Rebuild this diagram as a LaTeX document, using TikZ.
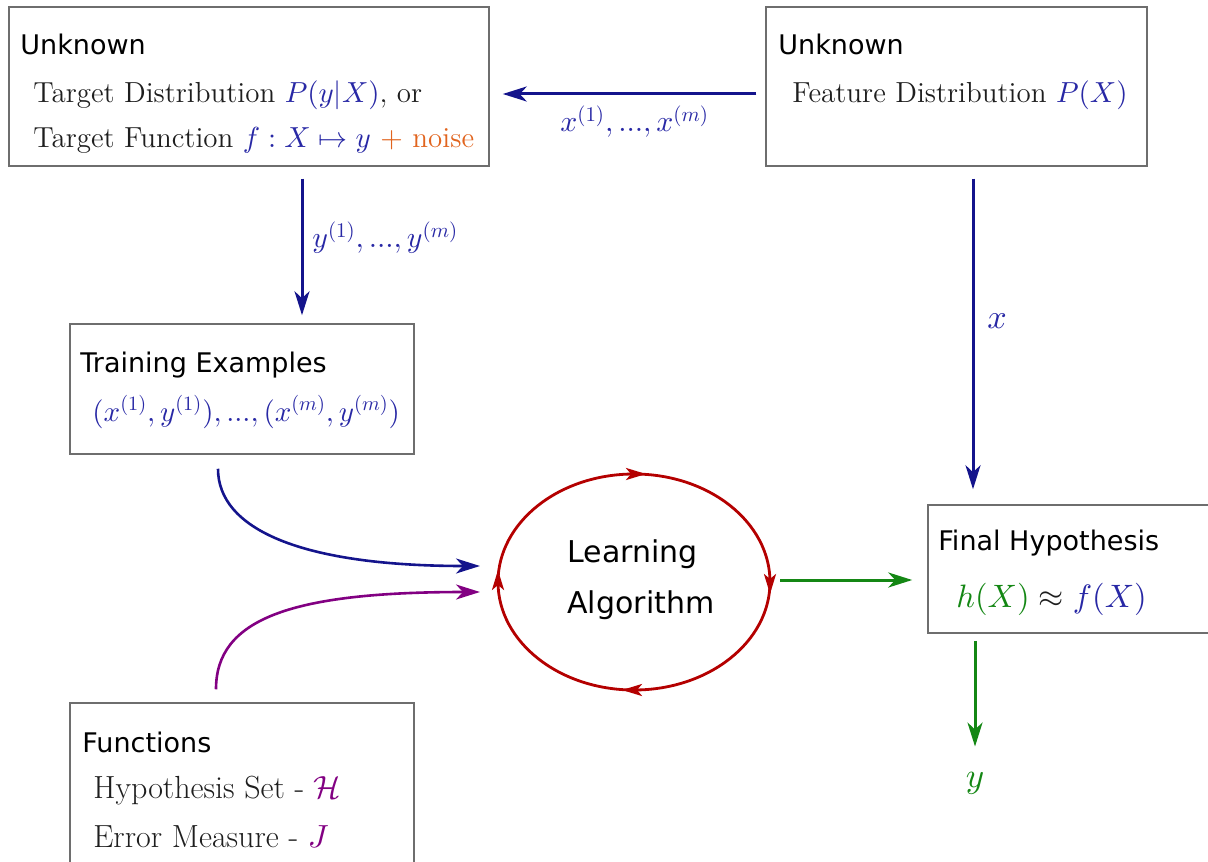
\documentclass[tikz,border=0pt]{standalone}
\usepackage{fontspec}
\setsansfont{DejaVu Sans}
\DeclareFontShape{OML}{cmm}{m}{it}{<->cmmi10}{}
\DeclareFontShape{OMS}{cmsy}{m}{n}{<->cmsy10}{}
\DeclareFontShape{OT1}{cmr}{m}{n}{<->cmr10}{}
\DeclareFontShape{OMX}{cmex}{m}{n}{<->cmex10}{}
\usetikzlibrary{arrows.meta,fit,shapes.geometric}
\definecolor{arrowblue}{RGB}{20,20,140}
\definecolor{mathblue}{RGB}{40,40,165}
\definecolor{loopred}{RGB}{180,0,0}
\definecolor{hypgreen}{RGB}{20,135,20}
\definecolor{funcpurple}{RGB}{130,0,130}
\definecolor{noiseorange}{RGB}{225,100,30}
\definecolor{boxgray}{RGB}{110,110,110}
\definecolor{textdark}{RGB}{30,30,30}
\tikzset{
  box/.style={draw=boxgray, line width=0.75pt, inner sep=0pt},
  title/.style={anchor=base west, inner sep=0pt, font=\fontsize{13.5}{16}\sffamily, text=black},
  body/.style={anchor=base west, inner sep=0pt, text=textdark, font=\fontsize{14.5}{17}\selectfont},
  lab/.style={anchor=base west, inner sep=0pt, font=\fontsize{14.9}{18}\selectfont, text=mathblue},
  flow/.style={line width=1.5pt, -{Stealth[length=12pt,width=7.5pt,inset=3.5pt]}},
  curveflow/.style={line width=1.3pt, -{Stealth[length=12pt,width=7.5pt,inset=3.5pt]}},
  looptip/.style={draw=loopred, line width=1.4pt, -{Stealth[length=10pt,width=6pt,inset=2.5pt]}},
  loopring/.style={draw=loopred, line width=1.4pt}
}
\begin{document}
\begin{tikzpicture}[x=0.5pt,y=-0.5pt]
\useasboundingbox (0,0) rectangle (1208,861);
\clip (0,0) rectangle (1208,861);

% boxes
\node[box, fit={(9,7) (489,166)}] (b1) {};
\node[box, fit={(766,7) (1147,166)}] (b2) {};
\node[box, fit={(70,324) (414,454)}] (tr) {};
\node[box, fit={(928,505) (1215,633)}] (fh) {};
\node[box, fit={(70,703) (414,875)}] (fn) {};

% box 1 text
\node[title] (b1t) at (20,55) {Unknown};
\node[body] (b1a) at (33,103) {Target Distribution {\color{mathblue}$P(y|X)$}, or};
\node[body] (b1b) at (33,148) {Target Function {\color{mathblue}$f : X \mapsto y$} {\color{noiseorange}$+$ noise}};

% box 2 text
\node[title] (b2t) at (778,55) {Unknown};
\node[body] (b2a) at (792,103) {Feature Distribution {\color{mathblue}$P(X)$}};

% training
\node[title] (trt) at (80,372) {Training Examples};
\node[body, text=mathblue, font=\fontsize{14.5}{17}\selectfont] (tra) at (92,421) {$(x^{(1)},y^{(1)}),...,(x^{(m)},y^{(m)})$};

% functions
\node[title] (fnt) at (82,752) {Functions};
\node[body, font=\fontsize{16}{19}\selectfont] (fna) at (93,798) {Hypothesis Set - {\color{funcpurple}$\mathcal{H}$}};
\node[body, font=\fontsize{16}{19}\selectfont] (fnb) at (93,847) {Error Measure - {\color{funcpurple}$J$}};

% final hypothesis
\node[title] (fht) at (938,550) {Final Hypothesis};
\node[body, font=\fontsize{16.2}{19}\selectfont] (fha) at (956,607) {${\color{hypgreen}h(X)} \approx {\color{mathblue}f(X)}$};

% learning algorithm
\node[ellipse, minimum width=136pt, minimum height=108pt, inner sep=0pt, outer sep=0pt] (la) at (634,582) {};
\draw[loopring] (la.center) ellipse [x radius=68pt, y radius=54pt];
\draw[looptip] ([shift={(-10,0)}]la.north) -- ([shift={(12,0)}]la.north);
\draw[looptip] ([shift={(0,-10)}]la.east) -- ([shift={(0,12)}]la.east);
\draw[looptip] ([shift={(10,0)}]la.south) -- ([shift={(-12,0)}]la.south);
\draw[looptip] ([shift={(0,10)}]la.west) -- ([shift={(0,-12)}]la.west);
\node[anchor=base west, inner sep=0pt, font=\fontsize{15}{18}\sffamily] (l1) at (567,562) {Learning};
\node[anchor=base west, inner sep=0pt, font=\fontsize{15}{18}\sffamily] (l2) at (567,613) {Algorithm};

% labels
\node[lab] (xlab) at (560,132) {$x^{(1)},...,x^{(m)}$};
\node[lab] (ylab) at (312,248) {$y^{(1)},...,y^{(m)}$};
\node[lab, font=\fontsize{17}{20}\selectfont] (xl) at (987,328) {$x$};
\node[lab, anchor=base, text=hypgreen, font=\fontsize{17.5}{20}\selectfont] (yout) at (975,787) {$y$};

% connectors
\draw[flow, arrowblue] ([shift={(-9,7.5)}]b2.west) -- ([shift={(13,7.5)}]b1.east);
\draw[flow, arrowblue] ([shift={(53,12)}]b1.south) -- ([shift={(60,-8)}]tr.north);
\draw[flow, arrowblue] ([shift={(16.5,12)}]b2.south) -- ([shift={(-98.5,-15)}]fh.north);
\draw[flow, hypgreen] ([shift={(10,-2)}]la.east) -- ([shift={(-15,11)}]fh.west);
\draw[flow, hypgreen] ([shift={(-96.5,7)}]fh.south) -- ([shift={(0,-25)}]yout.north);
\draw[curveflow, arrowblue] ([shift={(-24,14)}]tr.south) .. controls +(0,60) and +(-180,0) .. ([shift={(-18,-16)}]la.west);
\draw[curveflow, funcpurple] ([shift={(-26,-13)}]fn.north) .. controls +(0,-70) and +(-190,0) .. ([shift={(-18,10)}]la.west);
\end{tikzpicture}
\end{document}
